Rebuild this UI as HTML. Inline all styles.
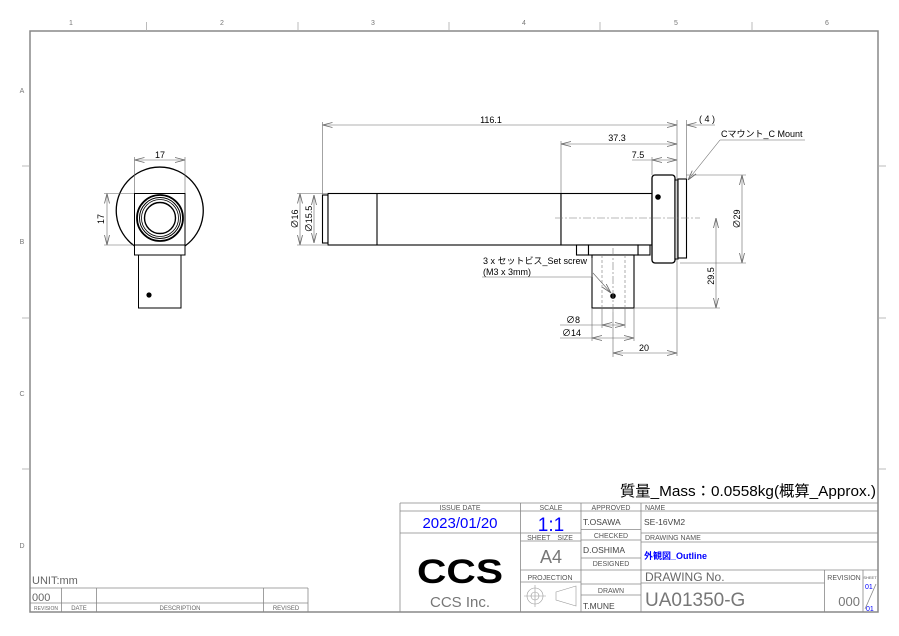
<!DOCTYPE html>
<html><head><meta charset="utf-8"><style>
html,body{margin:0;padding:0;background:#fff;}
svg{display:block;}
text{font-family:"Liberation Sans","Noto Sans CJK JP",sans-serif;}
</style></head><body>
<svg width="899" height="636" viewBox="0 0 899 636" xmlns="http://www.w3.org/2000/svg">
<defs>
<marker id="a" viewBox="0 0 10 6" refX="10" refY="3" markerWidth="10" markerHeight="6" orient="auto-start-reverse" markerUnits="userSpaceOnUse"><path d="M0,0.5 L10,3 L0,5.5" fill="none" stroke="#666" stroke-width="0.8"/></marker>
</defs>
<rect width="899" height="636" fill="#fff"/>
<rect x="30" y="31" width="848" height="581" fill="none" stroke="#888" stroke-width="1.5"/>
<g stroke="#aaa" stroke-width="0.8">
<line x1="146.5" y1="22" x2="146.5" y2="31"/><line x1="298" y1="22" x2="298" y2="31"/><line x1="449" y1="22" x2="449" y2="31"/><line x1="600" y1="22" x2="600" y2="31"/><line x1="752" y1="22" x2="752" y2="31"/>
<line x1="22" y1="166" x2="30" y2="166"/><line x1="22" y1="318" x2="30" y2="318"/><line x1="22" y1="469" x2="30" y2="469"/>
<line x1="878" y1="166" x2="886" y2="166"/><line x1="878" y1="318" x2="886" y2="318"/><line x1="878" y1="469" x2="886" y2="469"/>
</g>
<g font-size="7" fill="#777" text-anchor="middle">
<text x="71" y="25">1</text><text x="222" y="25">2</text><text x="373" y="25">3</text><text x="524" y="25">4</text><text x="676" y="25">5</text><text x="827" y="25">6</text>
<text x="22" y="93">A</text><text x="22" y="244">B</text><text x="22" y="396">C</text><text x="22" y="548">D</text>
</g>

<!-- FRONT VIEW -->
<g stroke="#000" fill="none" stroke-width="1">
<path d="M134.5,246 A43.5,43.5 0 1 1 185,246" stroke-width="1.3"/>
<rect x="134.5" y="193.5" width="50.5" height="51.5" fill="#fff"/>
<rect x="134.5" y="245" width="50.5" height="10"/>
<circle cx="160" cy="218" r="23" stroke-width="1.8"/>
<circle cx="160" cy="218" r="20.5"/>
<circle cx="160" cy="218" r="18.5" stroke-width="0.8"/>
<circle cx="160" cy="218" r="15.5" stroke-width="1.4"/>
<rect x="138.5" y="255" width="42.5" height="53"/>
</g>
<circle cx="149" cy="295" r="2.6" fill="#000"/>
<g stroke="#666" stroke-width="0.6" fill="none">
<line x1="134.5" y1="157" x2="134.5" y2="193"/><line x1="185" y1="157" x2="185" y2="193"/>
<line x1="134.5" y1="160" x2="185" y2="160" marker-start="url(#a)" marker-end="url(#a)"/>
<line x1="104" y1="193.5" x2="134" y2="193.5"/><line x1="104" y1="245" x2="134" y2="245"/>
<line x1="107" y1="193.5" x2="107" y2="245" marker-start="url(#a)" marker-end="url(#a)"/>
</g>
<text x="160" y="158" font-size="9" text-anchor="middle">17</text>
<text x="0" y="0" font-size="9" text-anchor="middle" transform="translate(104,219) rotate(-90)">17</text>

<!-- SIDE VIEW -->
<g stroke="#000" fill="#fff" stroke-width="1.1">
<rect x="322.5" y="195" width="5.5" height="48"/>
<rect x="328" y="193.5" width="233" height="51.5"/>
<line x1="377" y1="193.5" x2="377" y2="245"/>
<rect x="561" y="193.5" width="91" height="51.5"/>
<rect x="576.5" y="245" width="12" height="10"/>
<rect x="638" y="245" width="12" height="10"/>
<rect x="588.5" y="245" width="49.5" height="10"/>
<rect x="592" y="255" width="42" height="53"/>
<rect x="652" y="175" width="23" height="88" rx="3" stroke-width="1.3"/>
<rect x="675" y="180" width="3" height="79"/>
<rect x="678" y="179" width="8.5" height="79"/>
</g>
<circle cx="658" cy="197" r="2.8" fill="#000"/>
<circle cx="613" cy="296" r="2.8" fill="#000"/>
<g stroke="#777" stroke-width="0.6" fill="none" stroke-dasharray="3,2">
<line x1="555" y1="218" x2="700" y2="218" stroke-dasharray="8,2,2,2"/>
<line x1="602" y1="255" x2="602" y2="308"/><line x1="625" y1="255" x2="625" y2="308"/>
<line x1="613" y1="248" x2="613" y2="312" stroke-dasharray="8,2,2,2"/>
</g>
<g stroke="#666" stroke-width="0.6" fill="none">
<line x1="322.5" y1="122" x2="322.5" y2="195"/>
<line x1="677" y1="120" x2="677" y2="356"/>
<line x1="322.5" y1="125" x2="677" y2="125" marker-start="url(#a)" marker-end="url(#a)"/>
<line x1="561" y1="141" x2="561" y2="193"/>
<line x1="561" y1="144" x2="677" y2="144" marker-start="url(#a)" marker-end="url(#a)"/>
<line x1="652" y1="157" x2="652" y2="175"/>
<line x1="632" y1="160" x2="652" y2="160"/>
<line x1="652" y1="160" x2="677" y2="160" marker-start="url(#a)" marker-end="url(#a)"/>
<line x1="686.5" y1="120" x2="686.5" y2="179"/>
<line x1="686.5" y1="125" x2="715" y2="125" marker-start="url(#a)"/>
<line x1="688" y1="180" x2="720" y2="140" marker-start="url(#a)"/>
<line x1="720" y1="140" x2="805" y2="140"/>
<line x1="686" y1="175" x2="746" y2="175"/><line x1="680" y1="263" x2="746" y2="263"/>
<line x1="742" y1="175" x2="742" y2="263" marker-start="url(#a)" marker-end="url(#a)"/>
<line x1="634" y1="308" x2="720" y2="308"/>
<line x1="716" y1="218" x2="716" y2="308" marker-start="url(#a)" marker-end="url(#a)"/>
<line x1="297" y1="193.5" x2="328" y2="193.5"/><line x1="297" y1="245" x2="328" y2="245"/>
<line x1="300" y1="193.5" x2="300" y2="245" marker-start="url(#a)" marker-end="url(#a)"/>
<line x1="314" y1="195" x2="314" y2="243" marker-start="url(#a)" marker-end="url(#a)"/>
<line x1="602" y1="308" x2="602" y2="328"/><line x1="625" y1="308" x2="625" y2="328"/>
<line x1="560" y1="325" x2="602" y2="325"/>
<line x1="602" y1="325" x2="625" y2="325" marker-start="url(#a)" marker-end="url(#a)"/>
<line x1="592" y1="308" x2="592" y2="341"/><line x1="634" y1="308" x2="634" y2="341"/>
<line x1="560" y1="338" x2="592" y2="338"/>
<line x1="592" y1="338" x2="634" y2="338" marker-start="url(#a)" marker-end="url(#a)"/>
<line x1="613" y1="312" x2="613" y2="357"/>
<line x1="613" y1="353" x2="677" y2="353" marker-start="url(#a)" marker-end="url(#a)"/>
<line x1="482" y1="277" x2="592" y2="277"/>
<line x1="592" y1="258" x2="592" y2="277"/>
<line x1="593" y1="273" x2="611" y2="293" marker-end="url(#a)"/>
</g>
<g font-size="9" fill="#000">
<text x="491" y="123" text-anchor="middle">116.1</text>
<text x="617" y="141" text-anchor="middle">37.3</text>
<text x="638" y="158" text-anchor="middle">7.5</text>
<text x="707" y="122" text-anchor="middle">( 4 )</text>
<text x="721" y="137">Cマウント_C Mount</text>
<text x="0" y="0" text-anchor="middle" transform="translate(740,219) rotate(-90)">∅29</text>
<text x="0" y="0" text-anchor="middle" transform="translate(714,276) rotate(-90)">29.5</text>
<text x="0" y="0" text-anchor="middle" transform="translate(298,219) rotate(-90)">∅16</text>
<text x="0" y="0" text-anchor="middle" transform="translate(312,219) rotate(-90)">∅15.5</text>
<text x="566" y="323">∅8</text>
<text x="562" y="336">∅14</text>
<text x="644" y="351" text-anchor="middle">20</text>
<text x="483" y="264">3 x セットビス_Set screw</text>
<text x="483" y="275">(M3 x 3mm)</text>
</g>

<text x="876" y="496" font-size="15" text-anchor="end" fill="#000" textLength="256" lengthAdjust="spacingAndGlyphs">質量_Mass：0.0558kg(概算_Approx.)</text>

<g stroke="#888" stroke-width="0.8" fill="none">
<line x1="400" y1="503" x2="878" y2="503"/>
<line x1="400" y1="503" x2="400" y2="612"/>
<line x1="520.5" y1="503" x2="520.5" y2="612"/>
<line x1="581" y1="503" x2="581" y2="612"/>
<line x1="641" y1="503" x2="641" y2="612"/>
<line x1="400" y1="511" x2="878" y2="511"/>
<line x1="400" y1="533" x2="581" y2="533"/>
<line x1="641" y1="533" x2="878" y2="533"/>
<line x1="520.5" y1="541" x2="581" y2="541"/>
<line x1="641" y1="542" x2="878" y2="542"/>
<line x1="520.5" y1="570" x2="581" y2="570"/>
<line x1="520.5" y1="582" x2="581" y2="582"/>
<line x1="581" y1="529.5" x2="641" y2="529.5"/>
<line x1="581" y1="540" x2="641" y2="540"/>
<line x1="581" y1="558" x2="641" y2="558"/>
<line x1="581" y1="570" x2="641" y2="570"/>
<line x1="581" y1="584" x2="641" y2="584"/>
<line x1="581" y1="595" x2="641" y2="595"/>
<line x1="641" y1="570" x2="878" y2="570"/>
<line x1="641" y1="583" x2="824.5" y2="583"/>
<line x1="824.5" y1="570" x2="824.5" y2="612"/>
<line x1="863" y1="570" x2="863" y2="612"/>
<line x1="865" y1="609" x2="876" y2="584"/>
</g>
<g font-size="7" fill="#555" text-anchor="middle">
<text x="460" y="510">ISSUE DATE</text>
<text x="551" y="510">SCALE</text>
<text x="611" y="510">APPROVED</text>
<text x="550" y="540">SHEET　SIZE</text>
<text x="611" y="538">CHECKED</text>
<text x="611" y="566">DESIGNED</text>
<text x="550" y="580">PROJECTION</text>
<text x="611" y="593">DRAWN</text>
<text x="844" y="580">REVISION</text>
<text x="870" y="579" font-size="4">SHEET</text>
</g>
<g font-size="7" fill="#555">
<text x="645" y="510">NAME</text>
<text x="645" y="540">DRAWING NAME</text>
</g>
<text x="460" y="528" font-size="15" fill="#0000ff" text-anchor="middle">2023/01/20</text>
<text x="551" y="531" font-size="19" fill="#0000ff" text-anchor="middle">1:1</text>
<text x="551" y="563" font-size="18" fill="#777" text-anchor="middle">A4</text>
<text x="583" y="525" font-size="8.5" fill="#444">T.OSAWA</text>
<text x="583" y="553" font-size="8.5" fill="#444">D.OSHIMA</text>
<text x="583" y="609" font-size="8.5" fill="#444">T.MUNE</text>
<text x="644" y="525" font-size="8.5" fill="#444">SE-16VM2</text>
<text x="644" y="559" font-size="9" fill="#0000ff" font-weight="bold">外観図_Outline</text>
<text x="645" y="581" font-size="12" fill="#666">DRAWING No.</text>
<text x="645" y="606" font-size="19" fill="#777">UA01350-G</text>
<text x="860" y="606" font-size="13" fill="#777" text-anchor="end">000</text>
<text x="865" y="589" font-size="7" fill="#0000ff">01</text>
<text x="866" y="611" font-size="7" fill="#0000ff">01</text>
<text x="460" y="583" font-size="34" font-weight="bold" text-anchor="middle" fill="#000" textLength="86" lengthAdjust="spacingAndGlyphs">CCS</text>
<text x="460" y="607" font-size="15" fill="#777" text-anchor="middle">CCS Inc.</text>
<g stroke="#999" stroke-width="0.6" fill="none">
<circle cx="535" cy="596" r="8"/><circle cx="535" cy="596" r="4"/>
<line x1="524" y1="596" x2="546" y2="596"/><line x1="535" y1="585" x2="535" y2="607"/>
<path d="M556,592 L576,586 L576,606 L556,600 Z"/>
</g>

<text x="32" y="584" font-size="11" fill="#666">UNIT:mm</text>
<g stroke="#888" stroke-width="0.8" fill="none">
<line x1="30" y1="588" x2="308" y2="588"/>
<line x1="30" y1="603" x2="308" y2="603"/>
<line x1="308" y1="588" x2="308" y2="612"/>
<line x1="61.5" y1="588" x2="61.5" y2="612"/>
<line x1="96.5" y1="588" x2="96.5" y2="612"/>
<line x1="263.5" y1="588" x2="263.5" y2="612"/>
</g>
<text x="32" y="601" font-size="11" fill="#666">000</text>
<g font-size="6" fill="#666" text-anchor="middle">
<text x="46" y="610" font-size="5">REVISION</text><text x="79" y="610">DATE</text><text x="180" y="610">DESCRIPTION</text><text x="286" y="610">REVISED</text>
</g>
</svg>
</body></html>
